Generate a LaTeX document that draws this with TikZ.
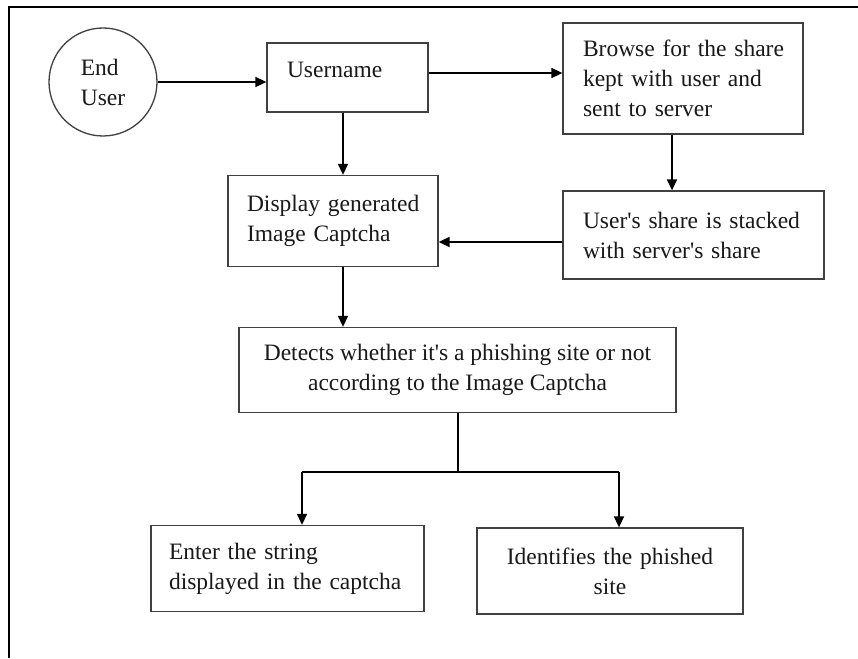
\documentclass[tikz,border=0pt]{standalone}
\usepackage{fontspec}
\setmainfont{Liberation Serif}
\usetikzlibrary{arrows.meta}
\newcommand{\ap}{\textquotesingle}
\begin{document}
\begin{tikzpicture}[x=1pt,y=-1pt,
  every node/.style={font=\fontsize{23.5}{30}\selectfont, text=black!90},
  box/.style={draw=black!75, line width=1.3pt, inner ysep=0pt},
  lbox/.style={box, align=left},
  cbox/.style={box, align=center},
  arr/.style={line width=1.6pt, -{Triangle[length=11pt,width=10pt]}},
  ln/.style={line width=1.6pt},
  frame/.style={line width=2.6pt}]
\useasboundingbox (0,0) rectangle (858,658);
\fill[white] (0,0) rectangle (858,658);
\draw[frame] (9,658) -- (9,7) -- (858,7);

\node[draw=black!75, line width=1.3pt, circle, minimum size=108pt, inner sep=0pt, align=left] (eu) at (103,82) {End\\User};
\node[box, minimum width=161pt, inner sep=0pt, inner xsep=20pt, text width=121pt, align=left, text height=35pt, text depth=34pt] (un) at (347.5,77.5) {Username};
\node[lbox, minimum width=240pt, minimum height=111pt, inner xsep=20pt, text width=200pt] (br) at (683,78.5) {\mbox{Browse for the share}\\\mbox{kept with user and}\\\mbox{sent to server}};
\node[lbox, minimum width=210pt, minimum height=91pt, inner xsep=19pt, text width=172pt] (dp) at (333,221) {\mbox{Display generated}\\\mbox{Image Captcha}};
\node[lbox, minimum width=261pt, minimum height=88pt, inner xsep=20pt, text width=221pt] (us) at (693.5,235) {\mbox{User\ap s share is stacked}\\\mbox{with server\ap s share}};
\node[cbox, minimum width=437pt, minimum height=85pt] (dt) at (457.5,370) {Detects whether it\ap s a phishing site or not\\according to the Image Captcha};
\node[lbox, minimum width=273pt, minimum height=86pt, inner xsep=18pt, text width=237pt] (en) at (287.5,568.5) {\mbox{Enter the string}\\\mbox{displayed in the captcha}};
\node[cbox, minimum width=266pt, minimum height=86pt, text width=230pt] (id) at (610,571) {Identifies the phished\\site};

% connectors
\draw[arr] (eu.east) -- (eu.east -| un.west);
\coordinate (a1) at (un.east |- 0,73);
\draw[arr] (a1) -- (a1 -| br.west);
\coordinate (a2) at (343,0);
\draw[arr] (a2 |- un.south) -- (a2 |- dp.north);
\coordinate (a3) at (672,0);
\draw[arr] (a3 |- br.south) -- (a3 |- us.north);
\coordinate (a4) at (us.west |- 0,242);
\draw[arr] (a4) -- (a4 -| dp.east);
\draw[arr] (a2 |- dp.south) -- (a2 |- dt.north);
\coordinate (j) at (458,472);
\coordinate (jl) at (302,472);
\coordinate (jr) at (619,472);
\draw[ln] (j |- dt.south) -- (j);
\draw[ln] (jl) -- (jr);
\draw[arr] (jl) -- (jl |- en.north);
\draw[arr] (jr) -- (jr |- id.north);
\end{tikzpicture}
\end{document}
